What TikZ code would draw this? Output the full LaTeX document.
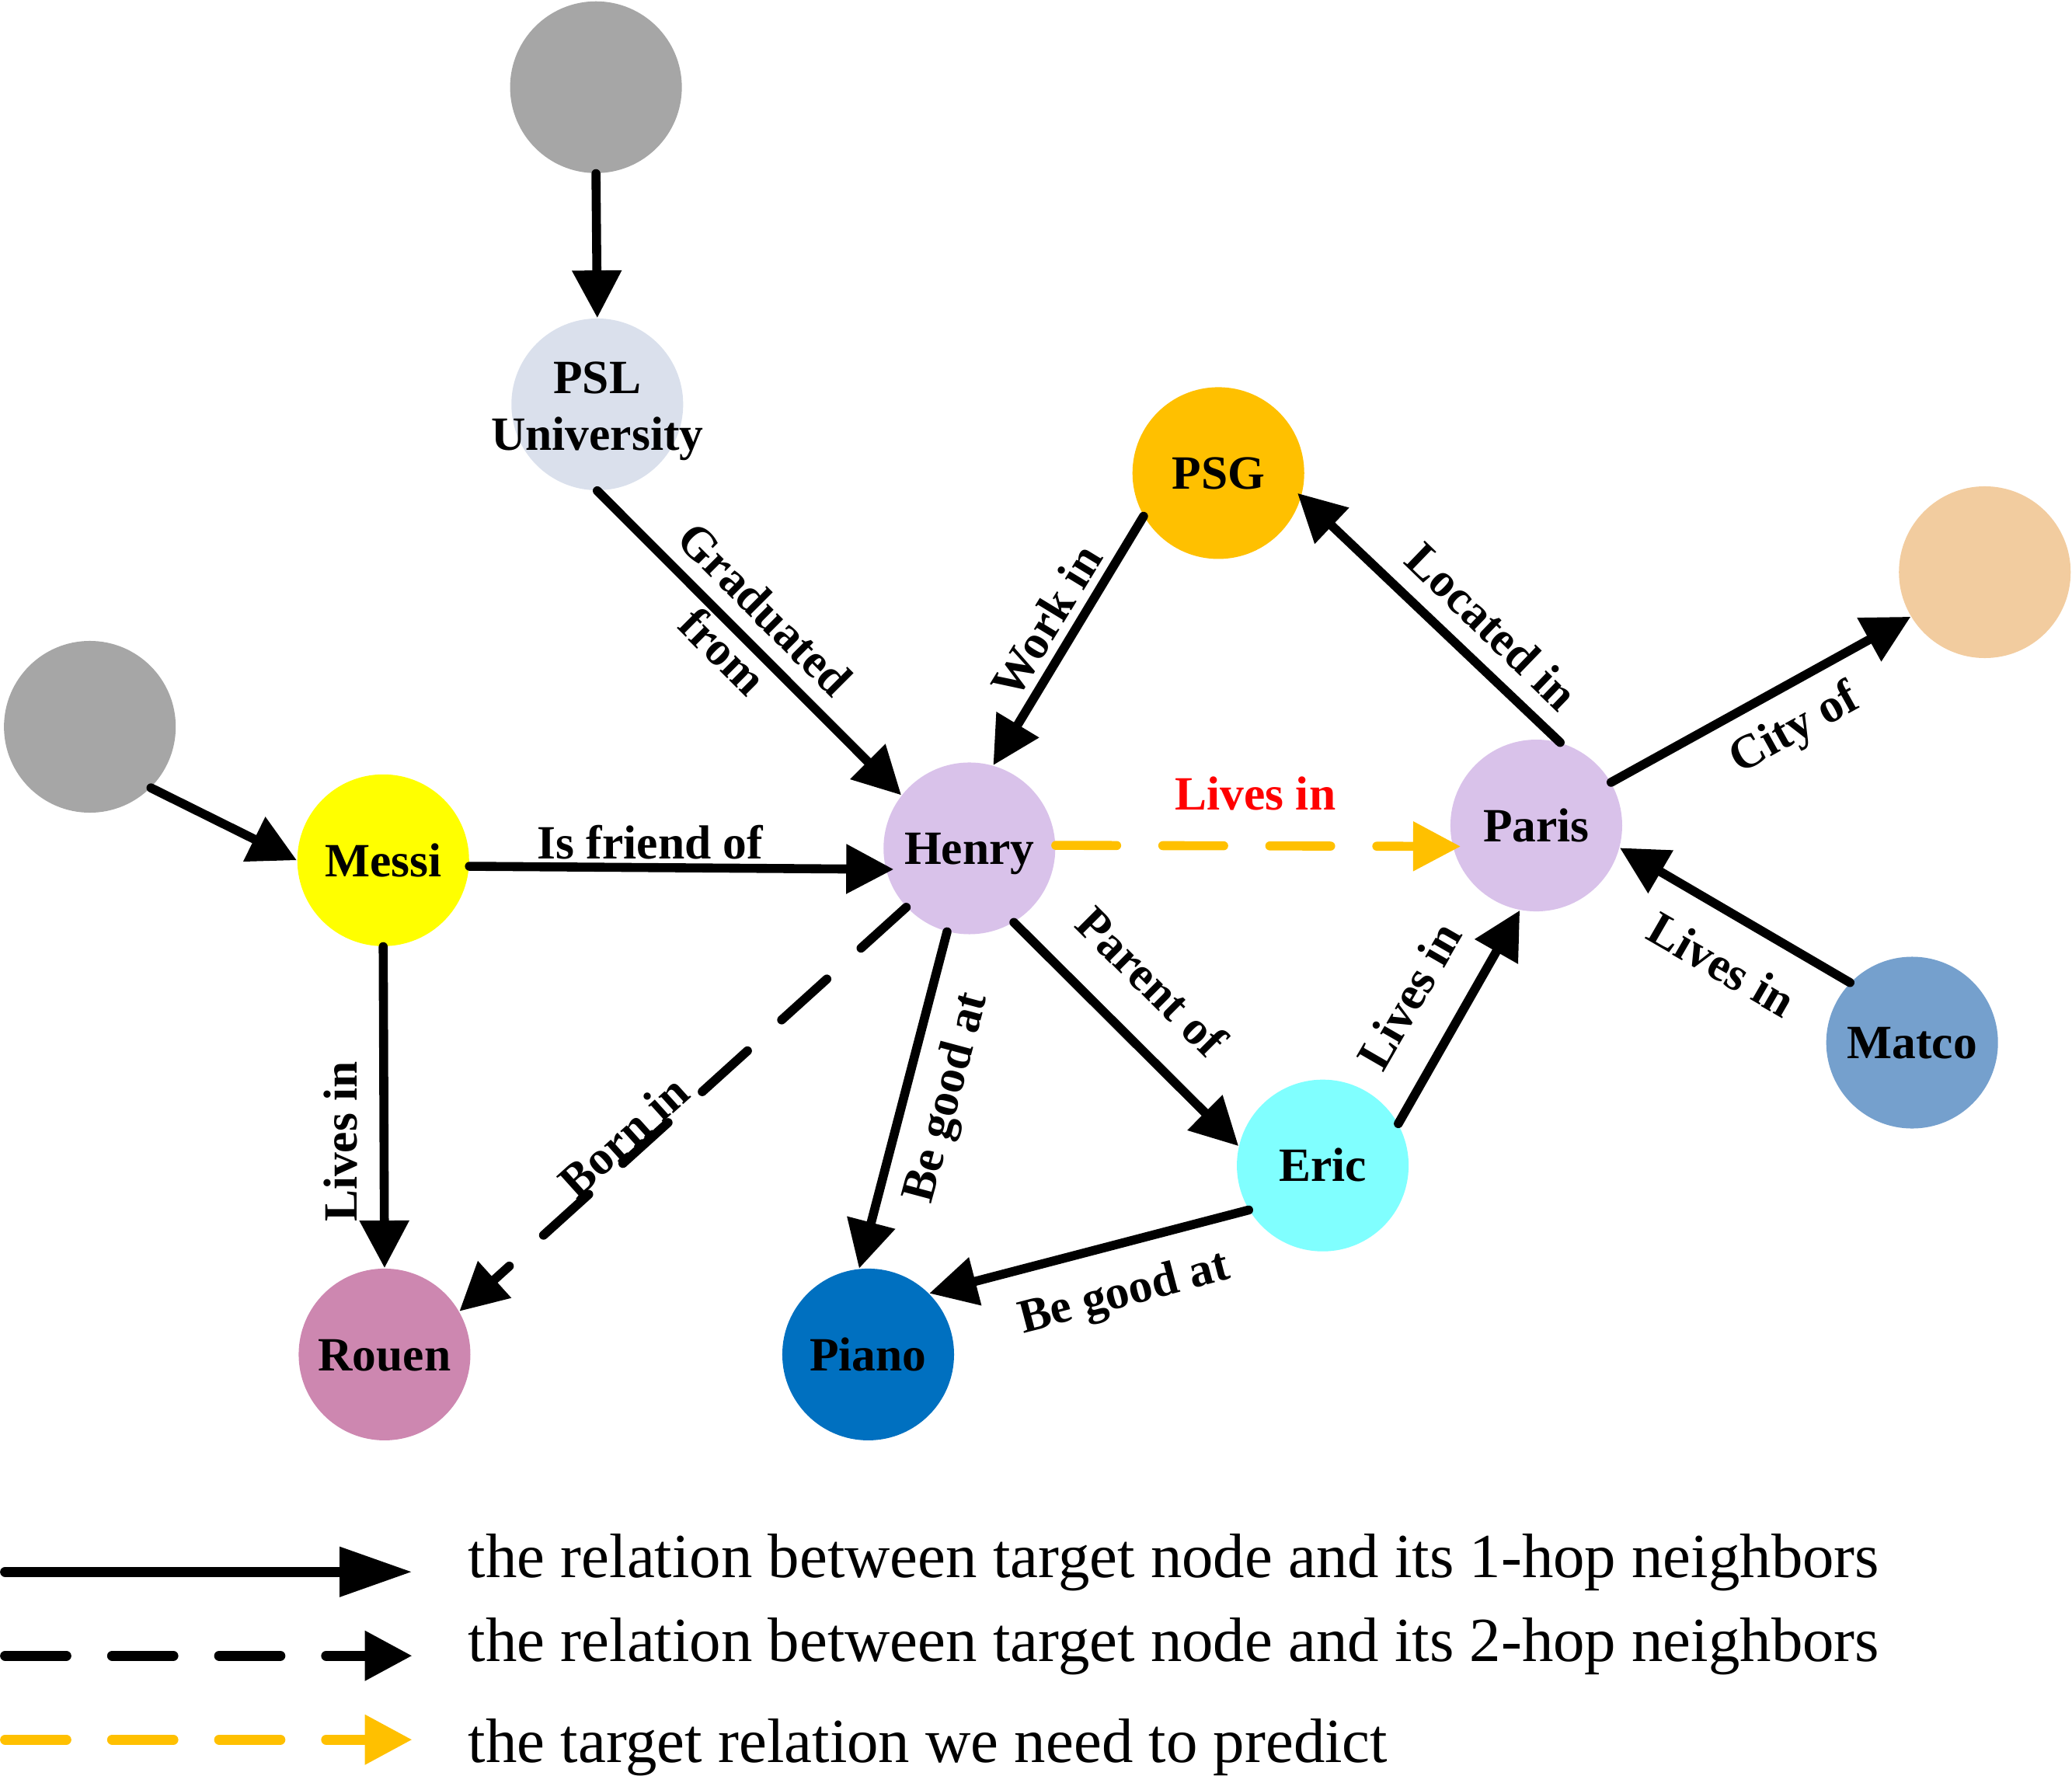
\documentclass[tikz,border=0pt]{standalone}
\usepackage{fontspec}
\setmainfont{Liberation Serif}
\usetikzlibrary{arrows.meta}
\definecolor{cgray}{HTML}{A6A6A6}
\definecolor{cpsl}{HTML}{DAE0EC}
\definecolor{cpsg}{HTML}{FFC000}
\definecolor{cpeach}{HTML}{F2CC9F}
\definecolor{cmessi}{HTML}{FFFF00}
\definecolor{clav}{HTML}{D9C2EA}
\definecolor{cmatco}{HTML}{75A0CD}
\definecolor{ceric}{HTML}{80FFFF}
\definecolor{crouen}{HTML}{CD87B0}
\definecolor{cpiano}{HTML}{0070C0}
\definecolor{corange}{HTML}{FFC000}
\definecolor{cred}{HTML}{FF0000}
\begin{document}
\begin{tikzpicture}[x=0.01701cm,y=-0.01701cm,
  entbase/.style={circle, minimum size=2.2113cm, inner sep=0pt, draw=none,
    font=\bfseries\fontsize{17.5}{20.8}\selectfont},
  ent/.style={entbase, text height=11.8pt, text depth=0pt},
  onehop/.style={line width=3.3pt, line cap=round, -{Triangle[length=17.4pt,width=17.4pt]}},
  twohop/.style={onehop, dash pattern=on 22.3pt off 16.9pt},
  predrel/.style={twohop, draw=corange, -{Triangle[length=17.4pt,width=17.4pt,fill=corange]}},
  lbl/.style={font=\bfseries\fontsize{17.5}{22}\selectfont, inner sep=0pt, text height=11.8pt, text depth=0pt},
  legline/.style={line width=3.8pt, line cap=round},
  legtext/.style={font=\fontsize{23}{27}\selectfont, anchor=base west, inner sep=0pt},
]
\useasboundingbox (0,0) rectangle (1568,1344);

% entities
\node[ent, fill=cgray]   (g1)    at (451,66) {};
\node[entbase, fill=cpsl, align=center] (psl) at (452,306)
  {\makebox[0pt]{\rule{0pt}{16.4pt}PSL}\\\makebox[0pt]{University}};
\node[ent, fill=cpsg]    (psg)   at (922,358) {PSG};
\node[ent, fill=cpeach]  (peach) at (1502,433) {};
\node[ent, fill=cgray]   (g2)    at (68,550) {};
\node[ent, fill=cmessi]  (messi) at (290,651) {Messi};
\node[ent, fill=clav]    (henry) at (733.6,642) {Henry};
\node[ent, fill=clav]    (paris) at (1162.6,624.7) {Paris};
\node[ent, fill=cmatco]  (matco) at (1447,789) {Matco};
\node[ent, fill=ceric]   (eric)  at (1001,882) {Eric};
\node[ent, fill=crouen]  (rouen) at (291,1025) {Rouen};
\node[ent, fill=cpiano]  (piano) at (657,1025) {Piano};

% relations
\draw[onehop] (g1.south) -- (psl.north);
\draw[onehop] (psl.south) -- (henry.142);
\draw[onehop] (psg.210) -- (henry.74);
\draw[onehop, shorten >=-2pt] (paris.74) -- (psg.-16);
\draw[onehop] (paris.30) -- (peach.211);
\draw[onehop] (matco.136) -- (paris.-15);
\draw[onehop] (g2.-45) -- (messi.180);
\draw[onehop, shorten >=-3pt] (messi.-4) -- (henry.194);
\draw[onehop] (messi.south) -- (rouen.north);
\draw[twohop] (henry.223) -- (rouen.30);
\draw[onehop] (henry.255) -- (piano.96);
\draw[onehop] (henry.-59) -- (eric.167);
\draw[onehop] (eric.29) -- (paris.259);
\draw[onehop] (eric.211) -- (piano.45);
\draw[predrel, shorten >=-3pt] (henry.2) -- (paris.194);

% relation labels
\node[lbl, rotate=-45, align=center] (tgrad) at (547,493) {Graduated\\from};
\node[lbl, rotate=58.6] (twork) at (792,470) {Work in};
\node[lbl, rotate=-44] (tloc) at (1129,474) {Located in};
\node[lbl, rotate=29] (tcity) at (1357,549.5) {City of};
\node[lbl, rotate=-30] (tmatco) at (1303,730) {Lives in};
\node[lbl] (tfriend) at (492,638) {Is friend of};
\node[lbl, rotate=90] (tmessi) at (258,864) {Lives in};
\node[lbl, rotate=42] (tborn) at (472,860) {Born in};
\node[lbl, rotate=75] (tgood1) at (714,830) {Be good at};
\node[lbl, rotate=-45] (tparent) at (871.6,743) {Parent of};
\node[lbl, rotate=60] (teric) at (1066.6,753.7) {Lives in};
\node[lbl, rotate=14.75] (tgood2) at (850,976.5) {Be good at};
\node[lbl, text=cred] (tpred) at (950,601) {Lives in};

% legend
\coordinate (la1) at (4,1189.5);  \coordinate (lb1) at (312,1189.5);
\coordinate (la2) at (4,1253);    \coordinate (lb2) at (312,1253);
\coordinate (la3) at (4,1316.5);  \coordinate (lb3) at (312,1316.5);
\draw[legline, -{Triangle[length=26.6pt,width=17.4pt]}] (la1) -- (lb1);
\draw[legline, dash pattern=on 22.3pt off 16.9pt, -{Triangle[length=17.4pt,width=17.4pt]}] (la2) -- (lb2);
\draw[legline, draw=corange, dash pattern=on 22.3pt off 16.9pt, -{Triangle[length=17.4pt,width=17.4pt,fill=corange]}] (la3) -- (lb3);
\node[legtext] (lt1) at (354,1193.5) {the relation between target node and its 1-hop neighbors};
\node[legtext] (lt2) at (354,1257) {the relation between target node and its 2-hop neighbors};
\node[legtext] (lt3) at (354,1333.5) {the target relation we need to predict};
\end{tikzpicture}
\end{document}
